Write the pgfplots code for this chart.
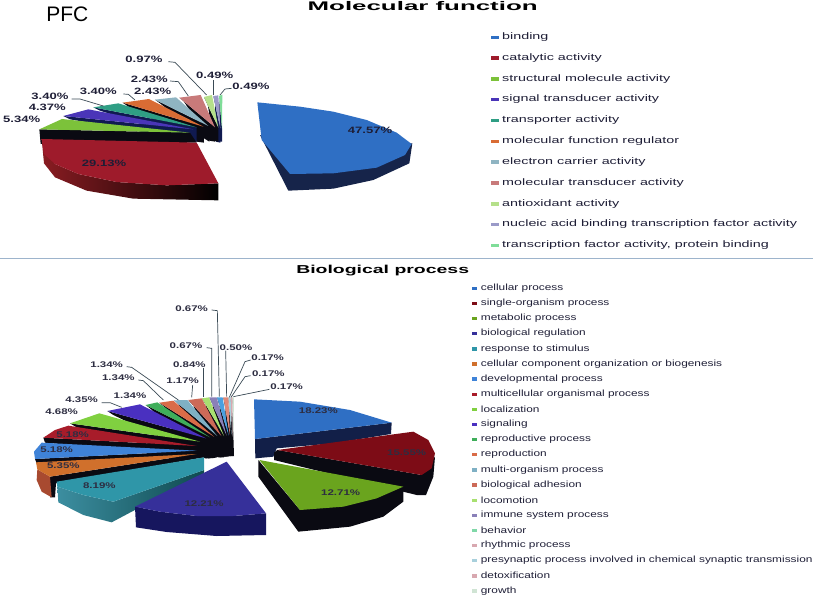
\documentclass[border=0pt]{standalone}
\usepackage{graphicx}
\usepackage{fontspec}
\setmainfont{Liberation Sans}
\usepackage{pgfplots}
\pgfplotsset{compat=1.18}
\definecolor{txt}{HTML}{1E1E36}
\definecolor{navy}{HTML}{101A50}
\definecolor{blk}{HTML}{0A0A12}
% top pie
\definecolor{tA}{HTML}{2F6FC4}\definecolor{tAs}{HTML}{16244A}
\definecolor{tB}{HTML}{9E1B2B}\definecolor{tBs}{HTML}{8A1C22}
\definecolor{tC}{HTML}{7CC23A}
\definecolor{tD}{HTML}{4A35B8}
\definecolor{tE}{HTML}{2F9E84}
\definecolor{tF}{HTML}{D96C34}
\definecolor{tG}{HTML}{8FB4C2}
\definecolor{tH}{HTML}{C87A7A}
\definecolor{tI}{HTML}{B5E08A}
\definecolor{tJ}{HTML}{9A9AC8}
\definecolor{tK}{HTML}{7FDD99}
% bottom pie
\definecolor{bA}{HTML}{2F6FC4}\definecolor{bAs}{HTML}{121F48}
\definecolor{bB}{HTML}{7D0C16}
\definecolor{bC}{HTML}{6AA41E}
\definecolor{bD}{HTML}{36309A}\definecolor{bDs}{HTML}{16165E}
\definecolor{bE}{HTML}{2F96A8}\definecolor{bEl}{HTML}{3C8EA0}\definecolor{bEr}{HTML}{0F4A50}
\definecolor{bF}{HTML}{D0702C}\definecolor{bFs}{HTML}{A84A30}
\definecolor{bG}{HTML}{3F83D8}
\definecolor{bH}{HTML}{A81C2A}
\definecolor{bI}{HTML}{80D040}
\definecolor{bJ}{HTML}{4A30C0}
\definecolor{bK}{HTML}{3FAE5A}
\definecolor{bL}{HTML}{D96C48}
\definecolor{bM}{HTML}{7FB0C4}
\definecolor{bN}{HTML}{CC6A58}
\definecolor{bO}{HTML}{A8E070}
\definecolor{bP}{HTML}{8A80B8}
\definecolor{bQ}{HTML}{4AA0E0}
\definecolor{bR}{HTML}{E08878}
\definecolor{bS}{HTML}{A8D0DC}
\definecolor{bT}{HTML}{D8A8B0}
\definecolor{bU}{HTML}{D0E4D4}
\definecolor{bV}{HTML}{80D8A8}
\definecolor{lead}{HTML}{3A4A55}
\definecolor{rulec}{HTML}{9DB4CC}
\pgfplotsset{frame3/.style={hide axis,scale only axis,width=813pt,height=597pt,clip=false,
  y dir=reverse,axis on top=false}}
\newcommand\poly[2]{\addplot[fill=#1,draw=none] coordinates {#2};}
\newcommand\slice[4]{\poly{#1}{#3}\poly{#2}{#4}}
\newcommand\lead[1]{\addplot[draw=lead,line width=0.7pt] coordinates {#1};}
\newcommand\lab[3]{\node[text=txt,inner sep=0pt,anchor=center] at (axis cs:#1,#2) {\scalebox{1.42}[1]{\fontsize{9.2}{10}\selectfont\bfseries #3}};}
\newcommand\labb[3]{\node[text=txt!85!gray,inner sep=0pt,anchor=center] at (axis cs:#1,#2) {\scalebox{1.4}[1]{\fontsize{8.2}{10}\selectfont\bfseries #3}};}
\newcommand\legt[3]{\addplot[only marks,color=#3,mark=square*,mark size=1.35pt,mark options={solid,fill=#3,draw=#3,xscale=2.4}] coordinates {(164,#1)};
 \node[text=txt,inner sep=0pt,anchor=west] at (axis cs:186,#1) {\scalebox{1.525}[1]{\fontsize{9.4}{10}\selectfont #2}};}
\newcommand\legb[3]{\addplot[only marks,color=#3,mark=square*,mark size=1.3pt,mark options={solid,fill=#3,draw=#3,xscale=1.7}] coordinates {(102,#1)};
 \node[text=txt,inner sep=0pt,anchor=west] at (axis cs:122,#1) {\scalebox{1.318}[1]{\fontsize{9}{10}\selectfont #2}};}
\begin{document}
\begin{tikzpicture}
\path[use as bounding box] (0,0) rectangle (813pt,597pt);
% ---------- top pie, coordinates at 3x pixels
\begin{axis}[frame3,at={(0,0)},anchor=south west,xmin=0,xmax=2439,ymin=0,ymax=1791]
\addplot[draw=rulec,line width=1.1pt] coordinates {(0,775) (2439,775)};
\slice{navy}{tK}{(657,288) (666,385) (666,425) (658,425) (658,300)}{(657,288) (667,284) (666,385)}
\slice{navy}{tJ}{(640,288) (661,385) (661,428) (648,425) (645,305)}{(640,288) (655,286) (661,385)}
\slice{blk}{tI}{(612,291) (655,383) (655,425) (640,422) (622,305)}{(612,291) (636,285) (655,383)}
\slice{blk}{tH}{(538,293) (645,382) (645,425) (628,422) (552,305)}{(538,293) (602,285) (645,382)}
\slice{blk}{tG}{(465,299) (625,378) (628,425) (612,415) (480,310)}{(465,299) (528,292) (625,378)}
\slice{blk}{tF}{(368,308) (610,380) (612,428) (590,425) (385,320)}{(368,308) (447,297) (610,380)}
\slice{navy}{tE}{(280,322) (590,382) (590,425) (300,332)}{(280,322) (355,310) (590,382)}
\slice{navy}{tD}{(190,348) (580,388) (590,425) (210,358)}{(190,348) (265,328) (580,388)}
\slice{blk}{tC}{(118,388) (570,398) (590,428) (122,432)}{(118,388) (186,357) (570,398)}
\addplot[left color=tBs,right color=black,draw=none] coordinates {(125,417) (132,490) (165,532) (260,572) (400,596) (655,601) (655,550) (500,556) (350,546) (235,522) (165,492)};
\poly{tB}{(125,417) (590,428) (655,550) (500,556) (350,546) (235,522) (165,492) (132,462)}
\slice{tAs}{tA}{(780,405) (865,572) (1000,566) (1120,540) (1228,490) (1237,430) (1000,450)}{(772,307) (900,320) (1000,335) (1100,360) (1190,398) (1235,432) (1215,465) (1130,503) (1000,520) (870,522) (785,420)}
\lead{(505,185) (525,187) (620,285)}
\lead{(640,240) (640,285)}
\lead{(695,265) (675,267) (660,285)}
\lead{(510,243) (535,245) (565,288)}
\lead{(370,282) (385,283) (405,300)}
\lead{(215,297) (240,297) (310,318)}
\lab{432}{178}{0.97\%}
\lab{644}{227}{0.49\%}
\lab{753}{260}{0.49\%}
\lab{448}{238}{2.43\%}
\lab{458}{273}{2.43\%}
\lab{295}{275}{3.40\%}
\lab{150}{288}{3.40\%}
\lab{142}{322}{4.37\%}
\lab{65}{357}{5.34\%}
\lab{1110}{390}{47.57\%}
\lab{312}{491}{29.13\%}
\node[text=black,inner sep=0pt] at (axis cs:202,43) {\fontsize{21}{21}\selectfont PFC};
\node[text=black,inner sep=0pt] at (axis cs:1268,17) {\scalebox{2.07}[1]{\fontsize{12.5}{13}\selectfont\bfseries Molecular function}};
\node[text=black,inner sep=0pt] at (axis cs:1148,812) {\scalebox{1.69}[1]{\fontsize{11.5}{12}\selectfont\bfseries Biological process}};
\end{axis}
% ---------- top legend
\begin{axis}[frame3,at={(0,0)},anchor=south west,xmin=-1320,xmax=1119,ymin=0,ymax=1791]
\legt{112}{binding}{tA}
\legt{174}{catalytic activity}{tB}
\legt{236}{structural molecule activity}{tC}
\legt{298}{signal transducer activity}{tD}
\legt{361}{transporter activity}{tE}
\legt{424}{molecular function regulator}{tF}
\legt{486}{electron carrier activity}{tG}
\legt{549}{molecular transducer activity}{tH}
\legt{611}{antioxidant activity}{tI}
\legt{673}{nucleic acid binding transcription factor activity}{tJ}
\legt{736}{transcription factor activity, protein binding}{tK}
\end{axis}
% ---------- bottom pie
\begin{axis}[frame3,at={(0,0)},anchor=south west,xmin=0,xmax=2439,ymin=-780,ymax=1011]
\slice{blk}{bU}{(697,412) (700,525) (702,588) (696,588) (698,430)}{(697,412) (702,412) (700,525)}
\slice{blk}{bT}{(692,412) (697,525) (697,588) (690,588) (692,430)}{(692,412) (697,412) (697,525)}
\slice{blk}{bS}{(685,412) (694,525) (694,588) (686,588) (687,425)}{(685,412) (692,412) (694,525)}
\slice{blk}{bR}{(670,412) (690,525) (690,588) (680,588) (675,425)}{(670,412) (685,412) (690,525)}
\slice{blk}{bQ}{(651,412) (686,527) (686,590) (672,590) (657,425)}{(651,412) (668,412) (686,527)}
\slice{blk}{bP}{(628,412) (680,527) (680,590) (665,590) (636,425)}{(628,412) (650,412) (680,527)}
\slice{blk}{bO}{(606,415) (672,528) (672,592) (655,592) (615,428)}{(606,415) (627,412) (672,528)}
\slice{blk}{bN}{(565,420) (664,528) (664,592) (645,590) (578,432)}{(565,420) (605,415) (664,528)}
\slice{blk}{bM}{(522,421) (652,528) (652,592) (635,595) (535,432)}{(522,421) (562,420) (652,528)}
\slice{blk}{bL}{(478,428) (642,530) (642,592) (625,595) (492,440)}{(478,428) (520,422) (642,530)}
\slice{blk}{bK}{(437,435) (630,532) (632,595) (615,595) (450,445)}{(437,435) (472,427) (630,532)}
\slice{blk}{bJ}{(322,453) (618,535) (620,595) (600,590) (340,465)}{(322,453) (420,433) (618,535)}
\slice{blk}{bI}{(210,490) (600,545) (610,590) (230,502)}{(210,490) (298,460) (600,545)}
\slice{blk}{bH}{(130,533) (590,558) (600,590) (135,548)}{(130,533) (165,510) (205,497) (590,558)}
\slice{blk}{bG}{(105,597) (590,572) (600,590) (110,610)}{(125,548) (590,572) (105,597) (102,575)}
\poly{blk}{(150,650) (590,582) (612,592) (168,670) (165,712) (150,712)}
\slice{bFs}{bF}{(112,628) (150,650) (155,712) (125,695) (110,660)}{(108,607) (590,582) (150,650) (112,628)}
\addplot[left color=bEl,right color=bEr,draw=none] coordinates {(172,680) (250,705) (340,725) (612,630) (612,640) (335,787) (250,765) (175,727)};
\poly{bE}{(170,665) (612,592) (612,630) (340,725) (250,705) (172,680)}
\slice{bDs}{bD}{(405,740) (408,802) (500,816) (650,828) (798,825) (798,760) (700,768) (590,768) (480,755)}{(680,605) (798,760) (700,768) (590,768) (480,755) (405,740)}
\slice{bAs}{bA}{(765,537) (766,595) (820,590) (830,565) (1000,550) (1173,522) (1175,488)}{(762,418) (900,425) (1050,450) (1175,488) (765,537)}
\slice{blk}{bB}{(832,570) (822,578) (822,600) (1250,705) (1278,705) (1300,650) (1305,590) (1265,645)}{(832,570) (1240,515) (1285,540) (1305,580) (1295,625) (1265,645)}
\slice{blk}{bC}{(775,600) (775,650) (895,815) (1050,800) (1150,770) (1210,725) (1210,680) (900,750)}{(778,600) (1210,680) (1130,715) (1030,740) (900,750)}
\lead{(635,150) (652,152) (658,410)}
\lead{(620,263) (635,265) (635,410)}
\lead{(677,272) (680,410)}
\lead{(610,325) (610,410)}
\lead{(578,375) (575,412)}
\lead{(380,320) (395,322) (535,420)}
\lead{(415,360) (430,362) (490,420)}
\lead{(305,428) (330,428) (365,442)}
\lead{(752,300) (735,305) (688,412)}
\lead{(752,347) (735,350) (693,412)}
\lead{(808,388) (700,410)}
\labb{575}{145}{0.67\%}
\labb{558}{257}{0.67\%}
\labb{708}{262}{0.50\%}
\labb{803}{292}{0.17\%}
\labb{805}{340}{0.17\%}
\labb{860}{381}{0.17\%}
\labb{568}{315}{0.84\%}
\labb{548}{362}{1.17\%}
\labb{320}{313}{1.34\%}
\labb{355}{352}{1.34\%}
\labb{390}{408}{1.34\%}
\labb{245}{420}{4.35\%}
\labb{185}{456}{4.68\%}
\labb{218}{525}{5.18\%}
\labb{170}{570}{5.18\%}
\labb{190}{618}{5.35\%}
\labb{298}{678}{8.19\%}
\labb{612}{732}{12.21\%}
\labb{1022}{698}{12.71\%}
\labb{1220}{577}{15.55\%}
\labb{955}{452}{18.23\%}
\end{axis}
% ---------- bottom legend
\begin{axis}[frame3,at={(0,0)},anchor=south west,xmin=-1320,xmax=1119,ymin=-810,ymax=981]
\legb{54}{cellular process}{bA}
\legb{99}{single-organism process}{bB}
\legb{145}{metabolic process}{bC}
\legb{190}{biological regulation}{bD}
\legb{236}{response to stimulus}{bE}
\legb{281}{cellular component organization or biogenesis}{bF}
\legb{326}{developmental process}{bG}
\legb{372}{multicellular organismal process}{bH}
\legb{417}{localization}{bI}
\legb{463}{signaling}{bJ}
\legb{508}{reproductive process}{bK}
\legb{553}{reproduction}{bL}
\legb{599}{multi-organism process}{bM}
\legb{644}{biological adhesion}{bN}
\legb{690}{locomotion}{bO}
\legb{735}{immune system process}{bP}
\legb{780}{behavior}{bV}
\legb{826}{rhythmic process}{bT}
\legb{871}{presynaptic process involved in chemical synaptic transmission}{bS}
\legb{917}{detoxification}{bT}
\legb{962}{growth}{bU}
\end{axis}
\end{tikzpicture}
\end{document}
